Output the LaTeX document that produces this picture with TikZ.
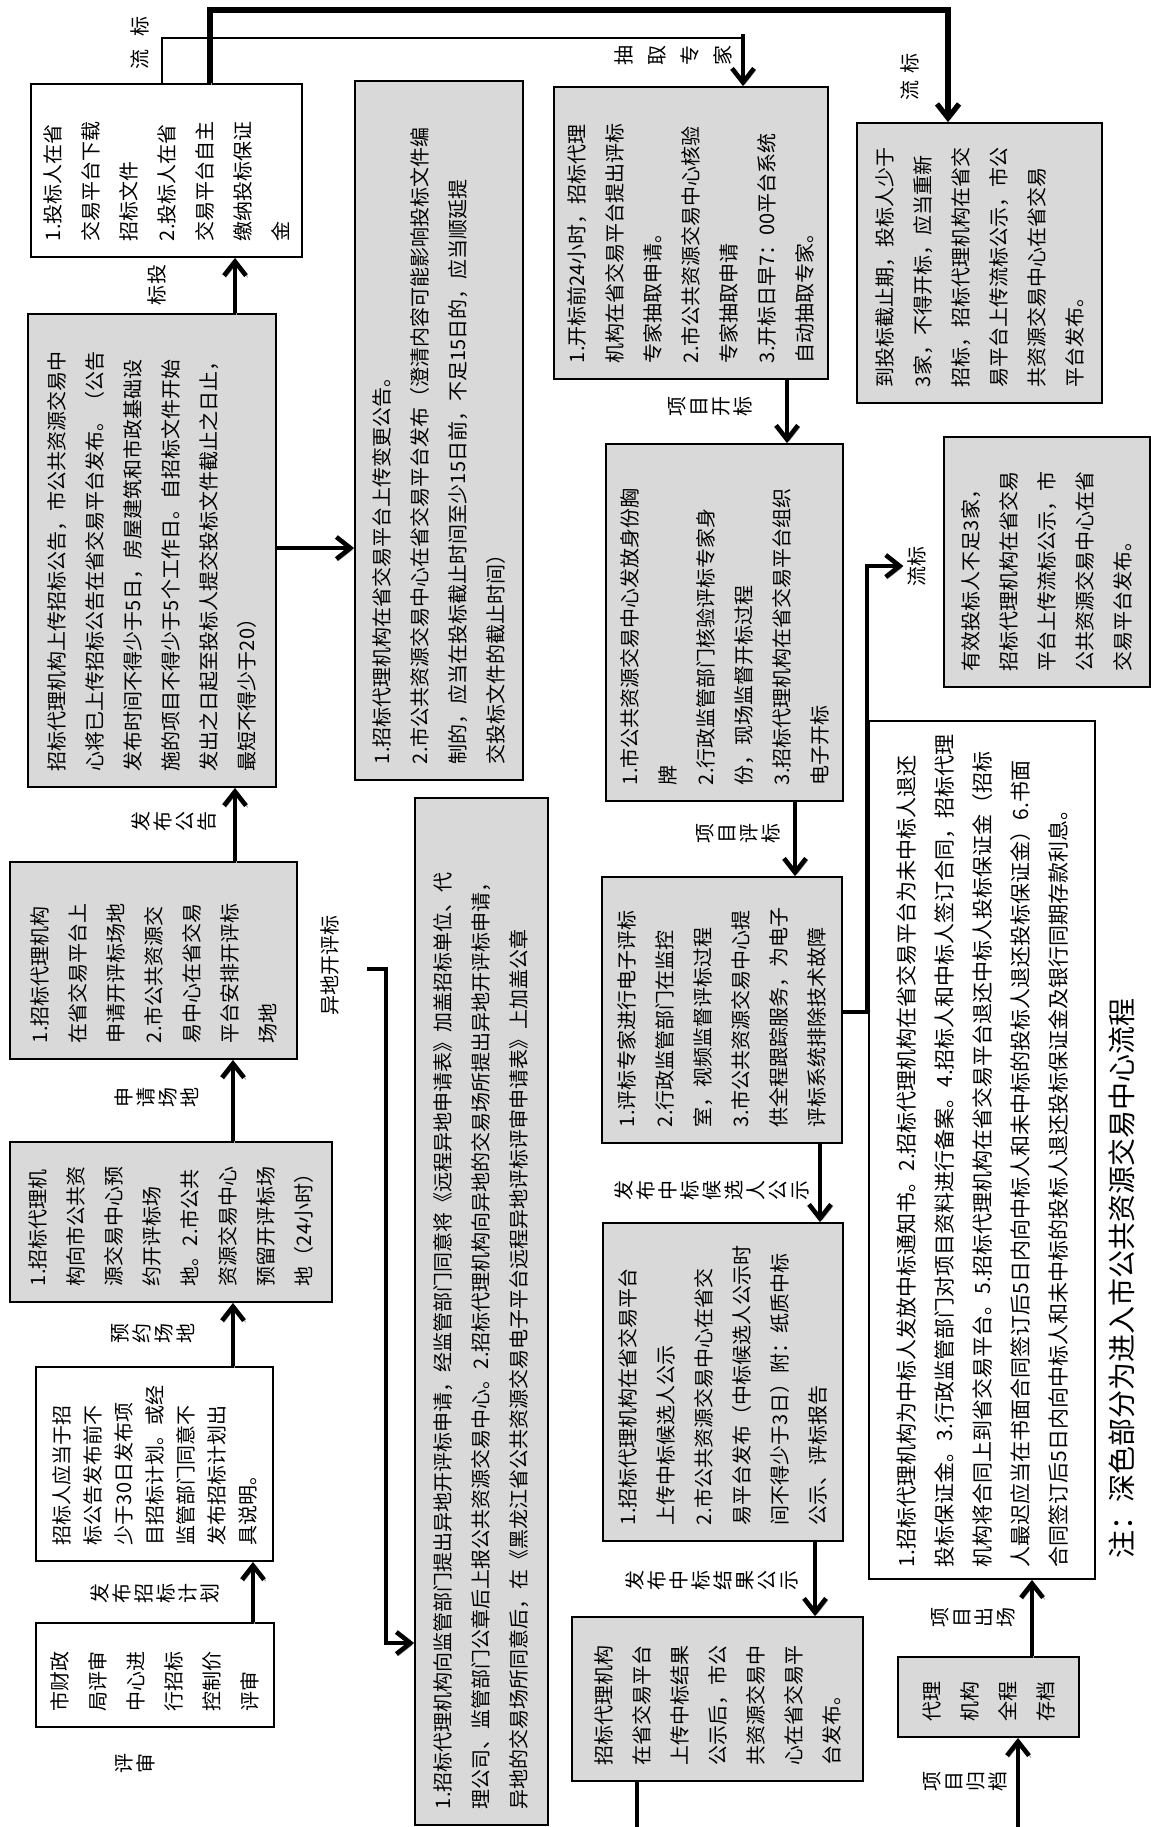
\documentclass[tikz,border=0pt]{standalone}
\usepackage{fontspec}
\setmainfont{Noto Sans CJK SC}
\usetikzlibrary{arrows.meta}
\definecolor{boxgray}{RGB}{217,217,217}
\begin{document}
\begin{tikzpicture}[x=0.5pt,y=-0.5pt,
  box/.style={draw=black, line width=0.9pt, rotate=90, inner xsep=8pt, inner ysep=0pt, align=left, font=\fontsize{10pt}{19pt}\selectfont, anchor=center},
  gbox/.style={box, fill=boxgray},
  wbox/.style={box, fill=white},
  shade/.style={preaction={draw=black!40, transform canvas={xshift=0.9pt,yshift=-0.9pt}}},
  arr/.style={line width=2.3pt, -{Straight Barb[length=7pt,width=11pt]}, shade},
  thinline/.style={line width=1pt},
  row/.style={rotate=90, align=center, inner sep=0pt, font=\fontsize{10pt}{11pt}\selectfont},
  vlab/.style={rotate=90, inner sep=0pt, font=\fontsize{10pt}{12pt}\selectfont},
]
\fill[white] (0,0) rectangle (1151,1827);
\useasboundingbox (0,0) rectangle (1151,1827);

% ---------- column A ----------
\node[wbox, minimum width=52pt, minimum height=119pt, text width=36pt] (A1) at (155,1675)
 {市财政\\局评审\\中心进\\行招标\\控制价\\评审};
\node[wbox, minimum width=96pt, minimum height=118.5pt, text width=81pt, font=\fontsize{10pt}{15.5pt}\selectfont] (A2) at (154.5,1464)
 {招标人应当于招\\标公告发布前不\\少于30日发布项\\目招标计划。或经\\监管部门同意不\\发布招标计划出\\具说明。};
\node[gbox, minimum width=80pt, minimum height=161pt, text width=64pt] (A3) at (171,1222)
 {1.招标代理机\\构向市公共资\\源交易中心预\\约开评标场\\地。2.市公共\\资源交易中心\\预留开评标场\\地（24小时）};
\node[gbox, minimum width=98.5pt, minimum height=143.5pt, text width=82.5pt] (A4) at (153.5,960.5)
 {1.招标代理机构\\在省交易平台上\\申请开评标场地\\2.市公共资源交\\易中心在省交易\\平台安排开评标\\场地};
\node[gbox, minimum width=236.5pt, minimum height=124pt, text width=220.5pt] (A5) at (152,550.5)
 {招标代理机构上传招标公告，市公共资源交易中\\心将已上传招标公告在省交易平台发布。（公告\\发布时间不得少于5日，房屋建筑和市政基础设\\施的项目不得少于5个工作日。自招标文件开始\\发出之日起至投标人提交投标文件截止之日止，\\最短不得少于20）};
\node[wbox, minimum width=86.5pt, minimum height=135.5pt, text width=70.5pt] (A6) at (166.5,170.5)
 {1.投标人在省\\交易平台下载\\招标文件\\2.投标人在省\\交易平台自主\\缴纳投标保证\\金};

% ---------- column B ----------
\node[gbox, minimum width=349.5pt, minimum height=84pt, text width=333.5pt] (B1) at (439,430.5)
 {1.招标代理机构在省交易平台上传变更公告。\\2.市公共资源交易中心在省交易平台发布（澄清内容可能影响投标文件编\\制的，应当在投标截止时间至少15日前，不足15日的，应当顺延提\\交投标文件的截止时间）};
\node[gbox, minimum width=513.5pt, minimum height=66.5pt, text width=497.5pt] (B2) at (481.5,1311.5)
 {1.招标代理机构向监管部门提出异地开评标申请，经监管部门同意将《远程异地申请表》加盖招标单位、代\\理公司、监管部门公章后上报公共资源交易中心。2.招标代理机构向异地的交易场所提出异地开评标申请，\\异地的交易场所同意后，在《黑龙江省公共资源交易电子平台远程异地评标评审申请表》上加盖公章};

% ---------- column C ----------
\node[gbox, minimum width=146pt, minimum height=137pt, text width=130pt] (C1) at (691,233)
 {1.开标前24小时，招标代理\\机构在省交易平台提出评标\\专家抽取申请。\\2.市公共资源交易中心核验\\专家抽取申请\\3.开标日早7：00平台系统\\自动抽取专家。};
\node[gbox, minimum width=178.5pt, minimum height=118.5pt, text width=162.5pt] (C2) at (724.5,622.5)
 {1.市公共资源交易中心发放身份胸\\牌\\2.行政监管部门核验评标专家身\\份，现场监督开标过程\\3.招标代理机构在省交易平台组织\\电子开标};
\node[gbox, minimum width=133pt, minimum height=120pt, text width=117pt] (C3) at (722,1010)
 {1.评标专家进行电子评标\\2.行政监管部门在监控\\室，视频监督评标过程\\3.市公共资源交易中心提\\供全程跟踪服务，为电子\\评标系统排除技术故障};
\node[gbox, minimum width=159pt, minimum height=120pt, text width=143pt] (C4) at (723,1382)
 {1.招标代理机构在省交易平台\\上传中标候选人公示\\2.市公共资源交易中心在省交\\易平台发布（中标候选人公示时\\间不得少于3日）附：纸质中标\\公示、评标报告};
\node[gbox, minimum width=82pt, minimum height=145.5pt, text width=66pt] (C5) at (717.5,1699)
 {招标代理机构\\在省交易平台\\上传中标结果\\公示后，市公\\共资源交易中\\心在省交易平\\台发布。};

% ---------- column D ----------
\node[gbox, minimum width=140pt, minimum height=122.5pt, text width=124pt] (D1) at (979.5,263)
 {到投标截止期，投标人少于\\3家，不得开标，应当重新\\招标，招标代理机构在省交\\易平台上传流标公示，市公\\共资源交易中心在省交易\\平台发布。};
\node[gbox, minimum width=125pt, minimum height=103pt, text width=109pt] (D2) at (1047,562)
 {有效投标人不足3家，\\招标代理机构在省交易\\平台上传流标公示，市\\公共资源交易中心在省\\交易平台发布。};
\node[wbox, minimum width=429pt, minimum height=113pt, text width=417pt, inner xsep=6pt, font=\fontsize{10.5pt}{19pt}\selectfont] (D3) at (982,1150)
 {1.招标代理机构为中标人发放中标通知书。2.招标代理机构在省交易平台为未中标人退还\\投标保证金。3.行政监管部门对项目资料进行备案。4.招标人和中标人签订合同，招标代理\\机构将合同上到省交易平台。5.招标代理机构在省交易平台退还中标人投标保证金（招标\\人最迟应当在书面合同签订后5日内向中标人和未中标的投标人退还投标保证金）6.书面\\合同签订后5日内向中标人和未中标的投标人退还投标保证金及银行同期存款利息。};
\node[gbox, minimum width=40pt, minimum height=90.5pt, text width=24pt] (D4) at (988.5,1697)
 {代理\\机构\\全程\\存档};

% ---------- labels ----------
\node[row] (Lps) at (135,1763) {评\\审};
\node[row] (Lfbjh) at (155,1593) {发\\布\\招\\标\\计\\划};
\node[row] (Lyy) at (153,1333) {预\\约\\场\\地};
\node[row] (Lsq) at (157,1097) {申\\请\\场\\地};
\node[row] (Lfbgg) at (174,821) {发\\布\\公\\告};
\node[align=center, inner sep=0pt, font=\fontsize{10pt}{10.5pt}\selectfont] (Ltb) at (157,285) {\rotatebox{90}{投}\\\rotatebox{90}{标}};
\node[vlab] (Llb1) at (140,43) {流\hspace{6.5pt}标};
\node[row, font=\fontsize{10pt}{16.5pt}\selectfont] (Lcq) at (673,55) {抽\\取\\专\\家};
\node[vlab] (Llb2) at (910,77) {流\hspace{3.5pt}标};
\node[row] (Lkb) at (710,406) {项\\目\\开\\标};
\node[row] (Lpb) at (738,833) {项\\目\\评\\标};
\node[row] (Lhx) at (712,1190) {发\\布\\中\\标\\候\\选\\人\\公\\示};
\node[row] (Ljg) at (712,1580) {发\\布\\中\\标\\结\\果\\公\\示};
\node[vlab] (Llb3) at (917,566) {流标};
\node[vlab] (Lyd) at (330,965) {异地开评标};
\node[row] (Lcc) at (973,1617) {项\\目\\出\\场};
\node[row] (Lgd) at (965,1781) {项\\目\\归\\档};
\node[vlab, font=\fontsize{14pt}{16pt}\selectfont] (Note) at (1122,1278) {注：深色部分为进入市公共资源交易中心流程};

% ---------- connectors ----------
\draw[arr] (253,0 |- A1.east) -- (253,0 |- A2.west);
\draw[arr] (233,0 |- A2.east) -- (233,0 |- A3.west);
\draw[arr] (233,0 |- A3.east) -- (233,0 |- A4.west);
\draw[arr] (235,0 |- A4.east) -- (235,0 |- A5.west);
\draw[arr] (235,0 |- A5.east) -- (235,0 |- A6.west);
\draw[arr] (A5.south |- 0,548) -- (B1.north |- 0,548);

\coordinate (j1) at (743,38);
\draw[thinline] (162,0 |- A6.east) -- (162,38) -- (j1);
\draw[arr] ([yshift=2pt]j1) -- (j1 |- C1.east);
\draw[arr, line width=2.6pt] (210,0 |- A6.east) -- (210,10) -- (948,10) -- (948,0 |- D1.east);

\draw[arr] (787,0 |- C1.west) -- (787,0 |- C2.east);
\draw[arr] (795,0 |- C2.west) -- (795,0 |- C3.east);
\draw[arr] (820,0 |- C3.west) -- (820,0 |- C4.east);
\draw[arr] (815,0 |- C4.west) -- (815,0 |- C5.east);
\coordinate (c5end) at (637,1827);
\draw[line width=2.3pt, shade] (c5end |- C5.west) -- (c5end);

\draw[arr] (C3.south |- 0,1012) -- (867,1012) -- (867,566) -- ([xshift=-2pt]Llb3.north);

\coordinate (ydA) at (367,969);
\draw[arr] (ydA) -- (386,969) -- (386,1643) -- (B2.north |- 0,1643);

\draw[arr] (1032,0 |- D4.east) -- (1032,0 |- D3.west);
\coordinate (d4in) at (1018,1827);
\draw[arr] (d4in) -- (d4in |- D4.west);
\end{tikzpicture}
\end{document}
